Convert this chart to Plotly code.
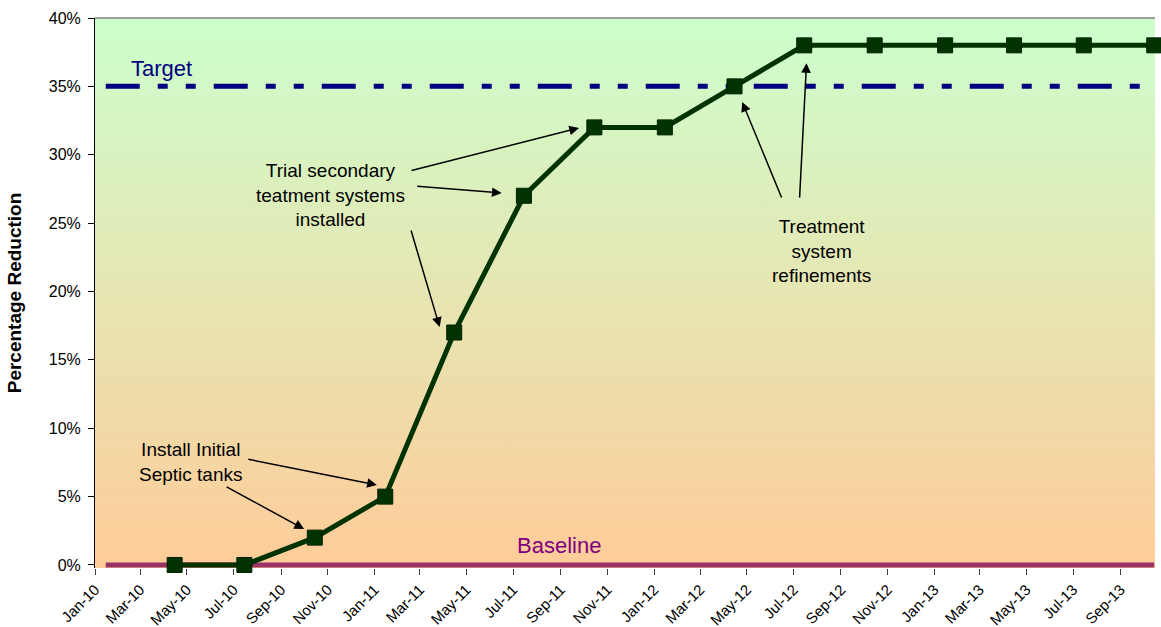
import plotly.graph_objects as go

# ---- data ----
dates = ["2010-04-15", "2010-07-15", "2010-10-15", "2011-01-15", "2011-04-15",
         "2011-07-15", "2011-10-15", "2012-01-15", "2012-04-15", "2012-07-15",
         "2012-10-15", "2013-01-15", "2013-04-15", "2013-07-15", "2013-10-15"]
reduction = [0, 0, 2, 5, 17, 27, 32, 32, 35, 38, 38, 38, 38, 38, 38]

ref_dates = ["2010-01-15", "2013-10-15"]
target = [35, 35]
baseline = [0, 0]

x_range = ["2010-01-01", "2013-10-16"]
y_range = [-0.22, 40]

# annotation texts (label, x, y)
labels = [
    ("Install Initial<br>Septic tanks", "2010-05-06", 7.55),
    ("Trial secondary<br>teatment systems<br>installed", "2010-11-05", 27.05),
    ("Treatment<br>system<br>refinements", "2012-08-07", 22.95),
]
# arrows: head x, head y, tail offset (px)
arrows = [
    ("2011-01-04", 5.85, -130, -26),
    ("2010-10-01", 2.63, -79, -43),
    ("2011-09-25", 31.96, -169, 43),
    ("2011-06-16", 27.2, -86, -7),
    ("2011-03-27", 17.4, -29, -98),
    ("2012-04-25", 33.86, 40, 97),
    ("2012-07-18", 36.7, -7, 136),
]

FONT = "Arial, Liberation Sans, sans-serif"

fig = go.Figure()

# gradient background
fig.add_trace(go.Scatter(
    x=[x_range[0], x_range[1], x_range[1], x_range[0]],
    y=[y_range[0], y_range[0], y_range[1], y_range[1]],
    fill="toself", mode="lines", line=dict(width=0),
    fillgradient=dict(type="vertical",
                      colorscale=[[0, "#FFCC99"], [1, "#CCFFCC"]]),
    hoverinfo="skip", showlegend=False))

fig.add_trace(go.Scatter(
    x=ref_dates, y=baseline, mode="lines",
    line=dict(color="#993366", width=5), showlegend=False))

fig.add_trace(go.Scatter(
    x=ref_dates, y=target, mode="lines",
    line=dict(color="#000080", width=5, dash="34px,18px,10px,18px,10px,18px"),
    showlegend=False))

fig.add_trace(go.Scatter(
    x=dates, y=reduction, mode="lines+markers",
    line=dict(color="#003300", width=5),
    marker=dict(symbol="square", size=15, color="#003300",
                line=dict(color="#002200", width=1)),
    cliponaxis=False, showlegend=False))

annotations = []
for text, x, y in labels:
    annotations.append(dict(x=x, y=y, text=text, showarrow=False,
                            font=dict(family=FONT, size=19, color="black"),
                            align="center"))
for x, y, ax, ay in arrows:
    annotations.append(dict(x=x, y=y, text="", showarrow=True, ax=ax, ay=ay,
                            arrowhead=2, arrowsize=1.3, arrowwidth=1.5,
                            arrowcolor="black", standoff=0))
annotations.append(dict(x="2010-02-14", y=36.3, text="Target", showarrow=False,
                        xanchor="left", font=dict(family=FONT, size=22, color="#000080")))
annotations.append(dict(x="2011-07-03", y=1.4, text="Baseline", showarrow=False,
                        xanchor="left", font=dict(family=FONT, size=22, color="#800080")))

fig.update_layout(
    width=1161, height=627,
    margin=dict(l=95, r=6, t=18, b=59),
    paper_bgcolor="white", plot_bgcolor="white",
    font=dict(family=FONT, color="black"),
    annotations=annotations,
    shapes=[dict(type="line", xref="paper", yref="paper", x0=0, x1=1, y0=1, y1=1,
                 line=dict(color="#808080", width=1.5))],
    xaxis=dict(range=x_range, type="date", dtick="M2", tick0="2010-01-01",
               tickformat="%b-%y", tickangle=-45, showgrid=False, zeroline=False,
               ticks="outside", ticklen=6, tickcolor="#404040", automargin=False,
               showline=False,
               tickfont=dict(family=FONT, size=15, color="black")),
    yaxis=dict(range=y_range, tickmode="linear", tick0=0, dtick=5,
               ticksuffix="%", showgrid=False, zeroline=False,
               ticks="outside", ticklen=6, tickcolor="black", automargin=False,
               showline=True, linecolor="black", linewidth=1, ticklabelstandoff=4,
               tickfont=dict(family=FONT, size=16, color="black"),
               title=dict(text="<b>Percentage Reduction</b>", standoff=22,
                          font=dict(family=FONT, size=19, color="black"))),
)

fig.write_html("out.html", config={"displayModeBar": False},
               post_script="document.body.style.margin='0';document.body.style.overflow='hidden';")
